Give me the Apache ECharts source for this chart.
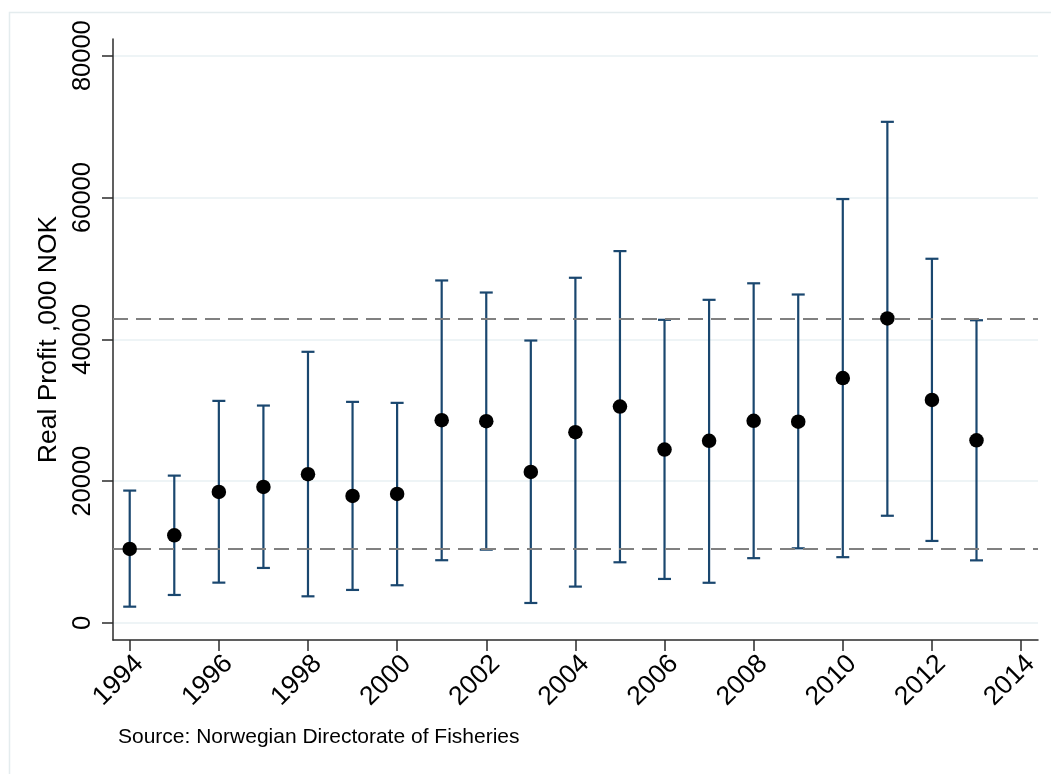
<!DOCTYPE html>
<html>
<head>
<meta charset="utf-8">
<script src="https://cdn.jsdelivr.net/npm/echarts@6/dist/echarts.min.js"></script>
<style>
html,body{margin:0;padding:0;background:#fff;}
#chart{width:1051px;height:774px;}
</style>
</head>
<body>
<div id="chart"></div>
<script>
// ---- data ----
const years = [1994,1995,1996,1997,1998,1999,2000,2001,2002,2003,2004,2005,2006,2007,2008,2009,2010,2011,2012,2013];
const means = [10440,12370,18480,19190,20980,17920,18200,28600,28460,21300,26900,30520,24460,25680,28500,28390,34540,42950,31460,25760];
const upper = [18670,20780,31320,30660,38240,31180,31040,48300,46600,39830,48680,52440,42750,45570,47900,46320,59780,70670,51360,42690];
const lower = [2300,3950,5690,7760,3760,4660,5320,8850,10340,2820,5130,8560,6210,5670,9140,10530,9280,15120,11570,8830];
const xTicks = [1994,1996,1998,2000,2002,2004,2006,2008,2010,2012,2014];
const yTicks = [0,20000,40000,60000,80000];
const yTitle = 'Real Profit ,000 NOK';
const sourceNote = 'Source: Norwegian Directorate of Fisheries';

const FONT = '"Liberation Sans", Arial, Helvetica, sans-serif';
const barColor = '#1a476f';
const maxMean = Math.max(...means);
const minMean = Math.min(...means);

const chart = echarts.init(document.getElementById('chart'), null, {renderer: 'canvas'});
chart.setOption({
  animation: false,
  backgroundColor: '#ffffff',
  grid: {left: 113, right: 13, top: 39, bottom: 134, containLabel: false, outerBoundsMode: 'none'},
  xAxis: {
    type: 'value',
    min: 1993.625,
    max: 2014.38,
    axisLine: {show: true, onZero: false, lineStyle: {color: '#2b2b2b', width: 1.5}},
    axisTick: {show: true, length: 11, customValues: xTicks, lineStyle: {color: '#2b2b2b', width: 1.5}},
    axisLabel: {
      show: true, customValues: xTicks, rotate: 45, margin: 10,
      align: 'right', verticalAlign: 'top',
      color: '#000', fontSize: 26.5, fontFamily: FONT,
      formatter: v => String(v)
    },
    splitLine: {show: false}
  },
  yAxis: {
    type: 'value',
    min: -2400,
    max: 82350,
    name: yTitle,
    nameLocation: 'middle',
    nameRotate: 90,
    nameGap: 40,
    nameTextStyle: {color: '#000', fontSize: 26.5, fontFamily: FONT},
    axisLine: {show: true, onZero: false, lineStyle: {color: '#2b2b2b', width: 1.5}},
    axisTick: {show: true, length: 11, customValues: yTicks, lineStyle: {color: '#2b2b2b', width: 1.5}},
    axisLabel: {
      show: true, customValues: yTicks, rotate: 90, margin: 17,
      color: '#000', fontSize: 25.5, fontFamily: FONT,
      formatter: v => String(v)
    },
    splitLine: {show: true, lineStyle: {color: '#e9f1f3', width: 1.5}}
  },
  graphic: [
    {type: 'rect', z: -10, silent: true,
     shape: {x: 9.5, y: 12.5, width: 1200, height: 900},
     style: {fill: 'none', stroke: '#e4ecee', lineWidth: 1.5}},
    {type: 'text', left: 118, top: 727,
     style: {text: sourceNote, fill: '#000', fontSize: 21, fontFamily: FONT}}
  ],
  series: [
    {
      type: 'scatter',
      name: 'ref',
      data: [],
      silent: true,
      z: 1,
      markLine: {
        silent: true,
        symbol: ['none', 'none'],
        label: {show: false},
        lineStyle: {color: '#808080', width: 2, type: [15, 8]},
        data: [{yAxis: maxMean}, {yAxis: minMean}]
      }
    },
    {
      type: 'custom',
      z: 3,
      silent: true,
      data: years.map((y, i) => [y, lower[i], upper[i]]),
      encode: {x: 0, y: [1, 2]},
      renderItem: function (params, api) {
        const x = api.value(0);
        const pLo = api.coord([x, api.value(1)]);
        const pHi = api.coord([x, api.value(2)]);
        const hw = 6.5;
        const st = {stroke: barColor, lineWidth: 2.2};
        return {
          type: 'group',
          children: [
            {type: 'line', shape: {x1: pHi[0], y1: pHi[1], x2: pLo[0], y2: pLo[1]}, style: st},
            {type: 'line', shape: {x1: pHi[0] - hw, y1: pHi[1], x2: pHi[0] + hw, y2: pHi[1]}, style: st},
            {type: 'line', shape: {x1: pLo[0] - hw, y1: pLo[1], x2: pLo[0] + hw, y2: pLo[1]}, style: st}
          ]
        };
      }
    },
    {
      type: 'scatter',
      z: 5,
      silent: true,
      symbol: 'circle',
      symbolSize: 14.5,
      itemStyle: {color: '#000', opacity: 1},
      data: years.map((y, i) => [y, means[i]])
    }
  ]
});
</script>
</body>
</html>
